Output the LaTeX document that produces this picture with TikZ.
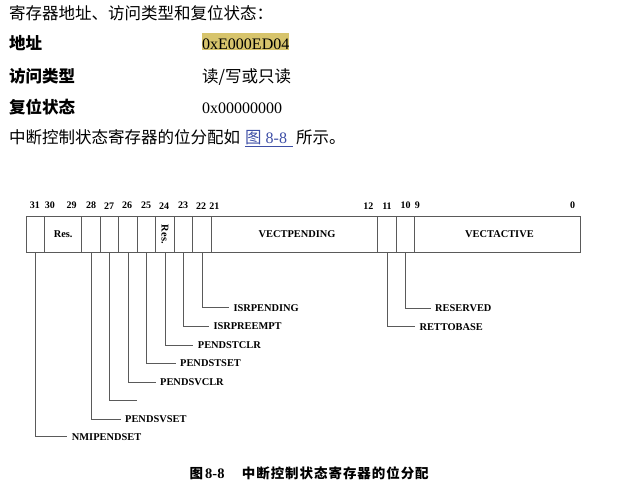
\documentclass[tikz,border=0pt]{standalone}
\usepackage{fontspec}
\setmainfont{Liberation Serif}
\newfontfamily\cjk{Noto Sans CJK SC}
\definecolor{hl}{HTML}{D7C46C}
\definecolor{lnk}{HTML}{3E4FA6}
\definecolor{wirec}{HTML}{5A5A5A}
\tikzset{
  body/.style={anchor=base west, inner sep=0pt, font=\fontsize{16}{19}\selectfont},
  cjkbody/.style={anchor=base west, inner sep=0pt, font=\cjk\fontsize{16.5}{19}\selectfont},
  cjkbold/.style={anchor=base west, inner sep=0pt, font=\cjk\bfseries\fontsize{16.5}{19}\selectfont},
  bitno/.style={inner sep=0pt, font=\bfseries\fontsize{10}{12}\selectfont},
  field/.style={draw=wirec, line width=0.7pt, minimum height=36.7pt, inner sep=0pt, anchor=west, font=\bfseries\fontsize{10.4}{12}\selectfont},
  lbl/.style={anchor=west, inner sep=0pt, font=\bfseries\fontsize{10.4}{12}\selectfont},
  wire/.style={draw=wirec, line width=0.7pt, shorten >=4.5pt},
  capcjk/.style={anchor=base west, inner sep=0pt, font=\cjk\bfseries\fontsize{13.5}{17}\selectfont},
}
\begin{document}
\begin{tikzpicture}[x=1pt,y=-1pt]
\useasboundingbox (0,0) rectangle (643,501);

% ---- header text ----
\node[cjkbody] (t1) at (9,19.3) {寄存器地址、访问类型和复位状态：};
\node[cjkbold] (k1) at (9,49.5) {地址};
\node[body, fill=hl, text height=16.5pt, text depth=0.5pt] (v1) at (202,49.5) {0xE000ED04};
\node[cjkbold] (k2) at (9,82) {访问类型};
\node[cjkbody] (v2) at (202,82) {读/写或只读};
\node[cjkbold] (k3) at (9,113) {复位状态};
\node[body] (v3) at (202,113) {0x00000000};
\node[cjkbody] (t5a) at (9,143.5) {中断控制状态寄存器的位分配如};
\node[body, text=lnk] (t5b) at (245,143.5) {{\cjk\fontsize{16.5}{19}\selectfont 图} 8-8};
\coordinate (u1) at (245,146.7);
\coordinate (u2) at (293,146.7);
\draw[lnk, line width=0.8pt] (u1) -- (u2);
\node[cjkbody] (t5c) at (296,143.5) {所示。};

% ---- bit numbers ----
\foreach \n/\x in {31/35,30/50,29/71.7,28/91,27/109,26/127,25/146,24/164,23/183,22/201,21/214.3,12/368.3,11/387,10/405.7,9/417.3,0/572.7}
  \node[bitno] (b\n) at (\x,205.7) {\n};

% ---- register fields ----
\node[field, minimum width=18.3pt] (f31) at (26,234.35) {};
\node[field, minimum width=37pt] (f30) at (44.3,234.35) {Res.};
\node[field, minimum width=19pt] (f28) at (81.3,234.35) {};
\node[field, minimum width=18pt] (f27) at (100.3,234.35) {};
\node[field, minimum width=18.4pt] (f26) at (118.3,234.35) {};
\node[field, minimum width=18.6pt] (f25) at (136.7,234.35) {};
\node[field, minimum width=18.4pt] (f24) at (155.3,234.35) {};
\node[field, minimum width=18.6pt] (f23) at (173.7,234.35) {};
\node[field, minimum width=18.4pt] (f22) at (192.3,234.35) {};
\node[field, minimum width=166pt] (f21) at (210.7,234.35) {\hspace*{6pt}VECTPENDING};
\node[field, minimum width=19.6pt] (f11) at (376.7,234.35) {};
\node[field, minimum width=17.4pt] (f10) at (396.3,234.35) {};
\node[field, minimum width=165.8pt] (f9) at (413.7,234.35) {\hspace*{5pt}VECTACTIVE};
\node[inner sep=0pt, rotate=-90, font=\bfseries\fontsize{10.4}{12}\selectfont] (r24) at (f24.center) {Res.};

% ---- bit labels ----
\node[lbl] (isrpend) at (233.3,307.7) {ISRPENDING};
\node[lbl] (isrpre) at (213.3,326) {ISRPREEMPT};
\node[lbl] (ptclr) at (197.7,345) {PENDSTCLR};
\node[lbl] (ptset) at (180,363.3) {PENDSTSET};
\node[lbl] (pvclr) at (160,382) {PENDSVCLR};
\coordinate (blank) at (136.7,400);
\node[lbl] (pvset) at (125,419) {PENDSVSET};
\node[lbl] (nmi) at (71.7,436.7) {NMIPENDSET};
\node[lbl] (resv) at (435,308.3) {RESERVED};
\node[lbl] (retto) at (419.3,326.7) {RETTOBASE};

% ---- connectors ----
\draw[wire] (f22.south) |- (isrpend.west);
\draw[wire] (f23.south) |- (isrpre.west);
\draw[wire] (f24.south) |- (ptclr.west);
\draw[wire] (f25.south) |- (ptset.west);
\draw[wire] (f26.south) |- (pvclr.west);
\draw[wire, shorten >=0pt] (f27.south) |- (blank);
\draw[wire] (f28.south) |- (pvset.west);
\draw[wire] (f31.south) |- (nmi.west);
\draw[wire] (f10.south) |- (resv.west);
\draw[wire] (f11.south) |- (retto.west);

% ---- caption ----
\node[capcjk] (c1) at (189.5,478.5) {图};
\node[anchor=base west, inner sep=0pt, font=\bfseries\fontsize{14.5}{17}\selectfont] (c2) at (205,478.5) {8-8};
\node[capcjk, font=\cjk\bfseries\fontsize{13.5}{17}\selectfont\addfontfeature{LetterSpace=7}] (c3) at (241.7,478.5) {中断控制状态寄存器的位分配};
\end{tikzpicture}
\end{document}
